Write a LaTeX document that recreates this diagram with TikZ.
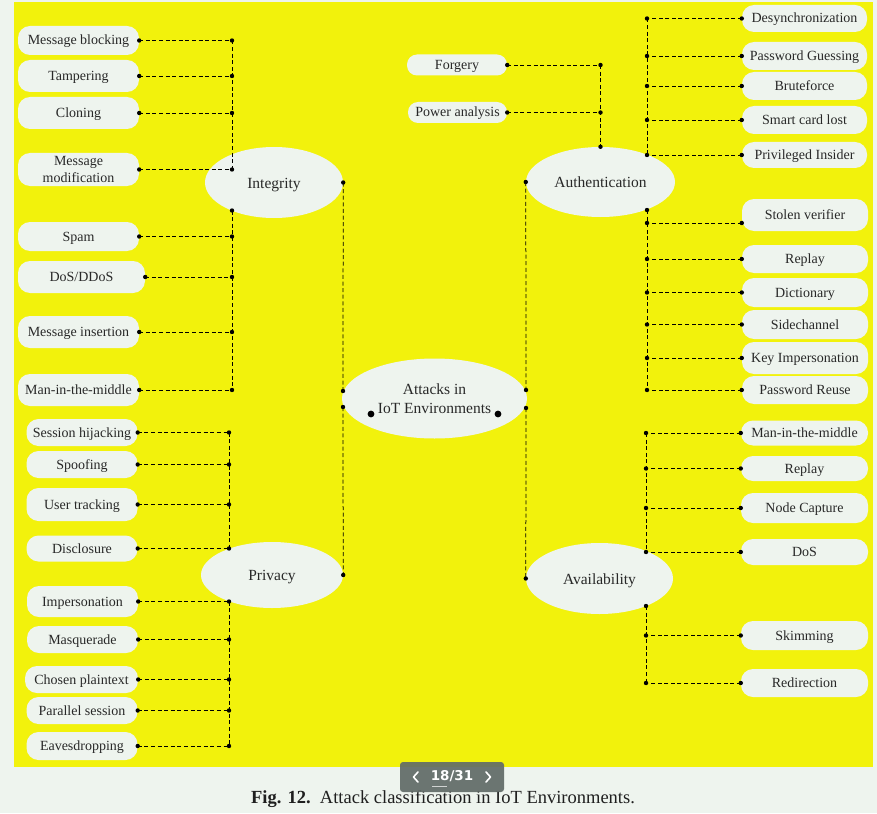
\documentclass[tikz,border=0pt]{standalone}
\usepackage{fontspec}
\setmainfont{Liberation Serif}
\newfontfamily\navfont{DejaVu Sans}
\usetikzlibrary{shapes.geometric}
\definecolor{pagebg}{RGB}{238,244,238}
\definecolor{panel}{RGB}{242,242,12}
\definecolor{boxfill}{RGB}{238,244,238}
\definecolor{txt}{RGB}{40,40,40}
\definecolor{navbg}{RGB}{98,108,104}
\newcommand\linkto[2]{\draw[conn] (#1) -- (#1 -| #2); \fill (#1) circle[radius=2.2pt]; \fill (#1 -| #2) circle[radius=2.2pt];}
\newcommand\dotat[1]{\fill (#1) circle[radius=2.2pt];}
\begin{document}
\begin{tikzpicture}[x=1pt,y=-1pt,
  pillbase/.style={rectangle, rounded corners=12pt, fill=boxfill, text=txt, font=\fontsize{14}{17}\selectfont, inner sep=0pt, align=center},
  pill/.style={pillbase, text height=12pt, text depth=3pt},
  ovalbase/.style={ellipse, fill=boxfill, text=txt, font=\fontsize{15.5}{19.5}\selectfont, inner sep=0pt, align=center},
  oval/.style={ovalbase, text height=14pt, text depth=3pt},
  conn/.style={draw=black, line width=0.75pt, dash pattern=on 4pt off 2.6pt}]
\useasboundingbox (0,0) rectangle (877,813);
\fill[pagebg] (0,0) rectangle (877,813);
\fill[panel] (14,2) rectangle (873,766.5);

% ellipses
\node[oval, minimum width=138pt, minimum height=71pt] (integ) at (274,182.5) {Integrity};
\node[oval, minimum width=149pt, minimum height=70pt] (auth) at (600.5,182) {Authentication};
\node[oval, minimum width=142pt, minimum height=66pt] (priv) at (272,575) {Privacy};
\node[oval, minimum width=147pt, minimum height=71pt] (avail) at (599.5,578.5) {Availability};
\node[ovalbase, minimum width=185pt, minimum height=80pt] (cen) at (434.5,398.5) {Attacks in\\IoT Environments};

% integrity boxes
\node[pill, minimum width=121pt, minimum height=29pt] (mb) at (78.5,40.5) {Message blocking};
\node[pill, minimum width=121pt, minimum height=32pt] (tamp) at (78.5,76) {Tampering};
\node[pill, minimum width=121pt, minimum height=32pt] (clon) at (78.5,113) {Cloning};
\node[pillbase, minimum width=121pt, minimum height=33pt] (mmod) at (78.5,169.5) {Message\\modification};
\node[pill, minimum width=121pt, minimum height=29pt] (spam) at (78.5,236.5) {Spam};
\node[pill, minimum width=127pt, minimum height=32pt] (dos) at (81.5,277) {DoS/DDoS};
\node[pill, minimum width=121pt, minimum height=32pt] (mins) at (78.5,332) {Message insertion};
\node[pill, minimum width=121pt, minimum height=32pt] (mitm) at (78.5,390) {Man-in-the-middle};

% privacy boxes
\node[pill, minimum width=111pt, minimum height=27pt] (sh) at (82,432.5) {Session hijacking};
\node[pill, minimum width=111pt, minimum height=27pt] (spoof) at (82,464.5) {Spoofing};
\node[pill, minimum width=111pt, minimum height=33pt] (ut) at (82,504.5) {User tracking};
\node[pill, minimum width=111pt, minimum height=26pt] (disc) at (82,548.5) {Disclosure};
\node[pill, minimum width=111pt, minimum height=31pt] (imp) at (82.5,601.5) {Impersonation};
\node[pill, minimum width=111pt, minimum height=27pt] (masq) at (82.5,639.5) {Masquerade};
\node[pill, minimum width=113pt, minimum height=27pt] (cp) at (81.5,679.5) {Chosen plaintext};
\node[pill, minimum width=111pt, minimum height=27pt] (ps) at (82,710.5) {Parallel session};
\node[pill, minimum width=111pt, minimum height=28pt] (eav) at (82,746) {Eavesdropping};

% authentication boxes
\node[pill, rounded corners=10pt, minimum width=100pt, minimum height=21pt] (forg) at (457,65) {Forgery};
\node[pill, rounded corners=10pt, minimum width=99pt, minimum height=21pt] (pa) at (457.5,112.5) {Power analysis};
\node[pill, minimum width=125pt, minimum height=27pt] (desync) at (804.5,18.5) {Desynchronization};
\node[pill, minimum width=125pt, minimum height=28pt] (pg) at (804.5,56) {Password Guessing};
\node[pill, minimum width=125pt, minimum height=28pt] (bf) at (804.5,86) {Bruteforce};
\node[pill, minimum width=125pt, minimum height=28pt] (scl) at (804.5,120) {Smart card lost};
\node[pill, minimum width=125pt, minimum height=26pt] (pi) at (804.5,155) {Privileged Insider};
\node[pill, minimum width=126pt, minimum height=32pt] (sv) at (805,215) {Stolen verifier};
\node[pill, minimum width=126pt, minimum height=28pt] (rep) at (805,259) {Replay};
\node[pill, minimum width=126pt, minimum height=29pt] (dict) at (805,292.5) {Dictionary};
\node[pill, minimum width=126pt, minimum height=29pt] (side) at (805,324.5) {Sidechannel};
\node[pill, minimum width=126pt, minimum height=32pt] (ki) at (805,358) {Key Impersonation};
\node[pill, minimum width=126pt, minimum height=28pt] (pr) at (805,390) {Password Reuse};

% availability boxes
\node[pill, minimum width=127pt, minimum height=25pt] (amitm) at (804.5,433) {Man-in-the-middle};
\node[pill, minimum width=127pt, minimum height=25pt] (arep) at (804.5,468.5) {Replay};
\node[pill, minimum width=127pt, minimum height=30pt] (nc) at (804.5,508) {Node Capture};
\node[pill, minimum width=127pt, minimum height=26pt] (adosb) at (804.5,552) {DoS};
\node[pill, minimum width=127pt, minimum height=29pt] (skim) at (804.5,635.5) {Skimming};
\node[pill, minimum width=127pt, minimum height=28pt] (redir) at (804.5,683) {Redirection};

% integrity connectors
\coordinate (iv) at (232,0);
\coordinate (ib) at (232,210.5);
\draw[conn] (mb.east -| iv) -- (mmod.east -| iv);
\draw[conn] (ib) -- (mitm.east -| iv);
\dotat{ib}
\linkto{mb.east}{iv}
\linkto{tamp.east}{iv}
\linkto{clon.east}{iv}
\linkto{mmod.east}{iv}
\linkto{spam.east}{iv}
\linkto{dos.east}{iv}
\linkto{mins.east}{iv}
\linkto{mitm.east}{iv}

% privacy connectors
\coordinate (pv) at (229,0);
\draw[conn] (sh.east -| pv) -- (disc.east -| pv);
\draw[conn] (imp.east -| pv) -- (eav.east -| pv);
\linkto{sh.east}{pv}
\linkto{spoof.east}{pv}
\linkto{ut.east}{pv}
\linkto{disc.east}{pv}
\linkto{imp.east}{pv}
\linkto{masq.east}{pv}
\linkto{cp.east}{pv}
\linkto{ps.east}{pv}
\linkto{eav.east}{pv}

% authentication connectors
\coordinate (av) at (auth.north);
\draw[conn] (forg.east -| av) -- (auth.north);
\dotat{auth.north}
\linkto{forg.east}{av}
\linkto{pa.east}{av}
\coordinate (ar) at (647,0);
\coordinate (abot) at (647,210);
\coordinate (svp) at ([yshift=-8pt]sv.west);
\draw[conn] (desync.west -| ar) -- (pi.west -| ar);
\draw[conn] (abot) -- (pr.west -| ar);
\dotat{abot}
\linkto{desync.west}{ar}
\linkto{pg.west}{ar}
\linkto{bf.west}{ar}
\linkto{scl.west}{ar}
\linkto{pi.west}{ar}
\linkto{svp}{ar}
\linkto{rep.west}{ar}
\linkto{dict.west}{ar}
\linkto{side.west}{ar}
\linkto{ki.west}{ar}
\linkto{pr.west}{ar}

% availability connectors
\coordinate (vr) at (646,0);
\coordinate (vbot) at (646,606);
\draw[conn] (amitm.west -| vr) -- (adosb.west -| vr);
\draw[conn] (vbot) -- (redir.west -| vr);
\dotat{vbot}
\linkto{amitm.west}{vr}
\linkto{arep.west}{vr}
\linkto{nc.west}{vr}
\linkto{adosb.west}{vr}
\linkto{skim.west}{vr}
\linkto{redir.west}{vr}

% main connectors
\coordinate (c1) at (343,391);
\coordinate (c2) at (343,407);
\coordinate (c3) at (526,390);
\coordinate (c4) at (526,408);
\draw[conn] (integ.east) -- (c1);
\draw[conn] (c2) -- (priv.east);
\draw[conn] (auth.west) -- (c3);
\draw[conn] (c4) -- (avail.west);
\dotat{integ.east}\dotat{priv.east}\dotat{auth.west}\dotat{avail.west}
\dotat{c1}\dotat{c2}\dotat{c3}\dotat{c4}
\fill (371,414) circle[radius=3.4pt];
\fill (498,414) circle[radius=3.4pt];

% caption
\node[text=black!88, font=\fontsize{18.5}{22}\selectfont] (cap) at (443,799) {\textbf{Fig. 12.}\hspace{0.5em}Attack classification in IoT Environments.};

% page navigation overlay
\node[fill=navbg, rounded corners=3pt, minimum width=104pt, minimum height=30pt, inner sep=0pt, opacity=0.93] (nav) at (452,777) {};
\node[text=white, font=\navfont\bfseries\fontsize{13.5}{15}\selectfont, inner sep=0pt] (navt) at (452,776.5) {18/31};
\draw[white, line width=1.6pt, line cap=round, line join=round] (418,772) -- (413.5,777) -- (418,782);
\draw[white, line width=1.6pt, line cap=round, line join=round] (486,772) -- (490.5,777) -- (486,782);
\draw[white!70!navbg, line width=0.6pt] (432,786) -- (447,786);
\end{tikzpicture}
\end{document}
